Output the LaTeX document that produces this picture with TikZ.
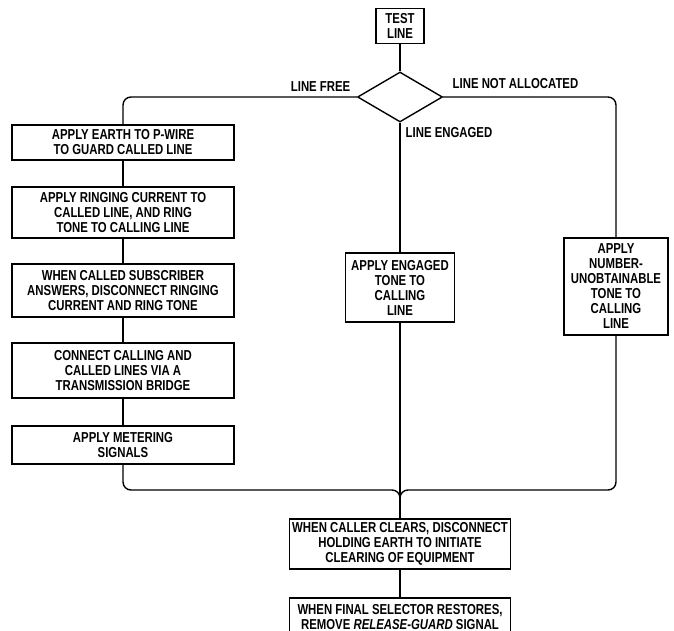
\documentclass[tikz,border=0pt]{standalone}
\usepackage{fontspec}
\setmainfont{Liberation Sans}[FakeStretch=0.79]
\usetikzlibrary{shapes.geometric}
\begin{document}
\begin{tikzpicture}[x=1pt,y=-1pt,line width=1.4pt,
    font=\bfseries\fontsize{14.4}{15}\selectfont,
    stepbox/.style={draw,align=center,inner sep=1pt},
    lbl/.style={inner sep=0pt}]
  \useasboundingbox (0,0) rectangle (674,631);
  \draw
    (400,26) node[stepbox,minimum width=48,minimum height=35] (test){TEST\\LINE}
    (400,97) node[draw,diamond,minimum width=85,minimum height=50,inner sep=0pt] (dec){}
    (123,142.5) node[stepbox,minimum width=222,minimum height=35] (b1){APPLY EARTH TO P-WIRE\\TO GUARD CALLED LINE}
    (123,212.5) node[stepbox,minimum width=222,minimum height=51] (b2){APPLY RINGING CURRENT TO\\CALLED LINE, AND RING\\TONE TO CALLING LINE}
    (123,290.5) node[stepbox,minimum width=222,minimum height=53] (b3){WHEN CALLED SUBSCRIBER\\ANSWERS, DISCONNECT RINGING\\CURRENT AND RING TONE}
    (123,370.5) node[stepbox,minimum width=222,minimum height=55] (b4){CONNECT CALLING AND\\CALLED LINES VIA A\\TRANSMISSION BRIDGE}
    (123,445) node[stepbox,minimum width=222,minimum height=38] (b5){APPLY METERING\\SIGNALS}
    (400,287.5) node[stepbox,minimum width=109,minimum height=69] (eng){APPLY ENGAGED\\TONE TO\\CALLING\\LINE}
    (616,286.5) node[stepbox,minimum width=104,minimum height=97] (nu){APPLY\\NUMBER-\\UNOBTAINABLE\\TONE TO\\CALLING\\LINE}
    (400,544) node[stepbox,minimum width=221,minimum height=50] (b6){WHEN CALLER CLEARS, DISCONNECT\\HOLDING EARTH TO INITIATE\\CLEARING OF EQUIPMENT}
    (400,617) node[stepbox,minimum width=221,minimum height=38] (b7){WHEN FINAL SELECTOR RESTORES,\\REMOVE \textit{RELEASE-GUARD} SIGNAL};
  \coordinate (join) at (400,490);
  % branch labels
  \node[lbl,anchor=base east] (free) at (351,92) {LINE FREE};
  \node[lbl,anchor=base west] (nalloc) at (452,89) {LINE NOT ALLOCATED};
  \node[lbl,anchor=base west] (busy) at (405,138) {LINE ENGAGED};
  \begin{scope}[-]
    \draw (test) to (dec);
    \draw[rounded corners=8] (dec.west) -| (b1.north);
    \draw[rounded corners=8] (dec.east) -| (nu.north);
    \draw (dec.south) to (eng.north);
    \draw (b1) to (b2);
    \draw (b2) to (b3);
    \draw (b3) to (b4);
    \draw (b4) to (b5);
    \draw[rounded corners=8] (b5.south) |- (join) -- (b6.north);
    \draw[rounded corners=8] (nu.south) |- (join) -- (b6.north);
    \draw (eng.south) to (b6.north);
    \draw (b6) to (b7);
  \end{scope}
\end{tikzpicture}
\end{document}
